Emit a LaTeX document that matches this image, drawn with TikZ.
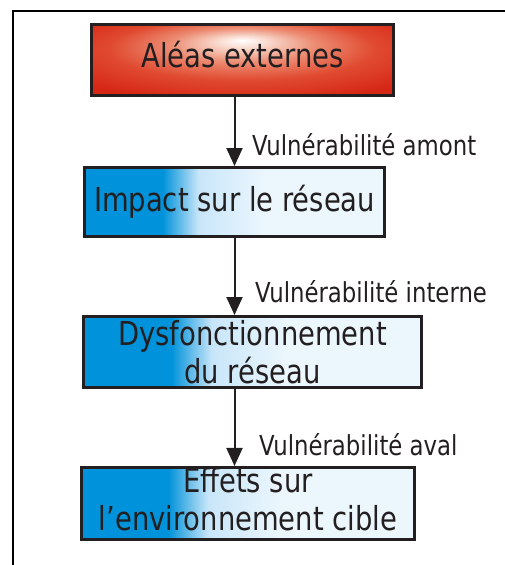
\documentclass[tikz,border=0pt]{standalone}
\usepackage{fontspec}
\setmainfont{DejaVu Sans}[FakeStretch=0.83]
\usetikzlibrary{arrows.meta}
\definecolor{txt}{RGB}{35,31,32}
\definecolor{bord}{RGB}{35,31,32}
\definecolor{redC}{RGB}{214,38,22}
\definecolor{redB}{RGB}{224,74,48}
\definecolor{redM}{RGB}{236,140,115}
\definecolor{redL}{RGB}{249,220,208}
\definecolor{blueC}{RGB}{0,146,218}
\definecolor{blueM}{RGB}{200,230,249}
\definecolor{blueW}{RGB}{236,246,253}
\pgfdeclareradialshading{redglow}{\pgfpoint{0bp}{14bp}}{%
  color(0bp)=(white); color(4bp)=(redL); color(12bp)=(redM);
  color(22bp)=(redB); color(34bp)=(redC); color(50bp)=(redC)}
\pgfdeclarehorizontalshading{bluefade}{100bp}{%
  color(0bp)=(blueC); color(38bp)=(blueC); color(44bp)=(blueM);
  color(55bp)=(blueW); color(100bp)=(blueW)}
\tikzset{
  boxbase/.style={draw=bord, line width=3pt, inner sep=0pt, align=center,
    text=txt, font=\fontsize{33pt}{38pt}\selectfont},
  redbox/.style={boxbase, shading=redglow},
  bluebox/.style={boxbase, shading=bluefade},
  arr/.style={draw=txt, line width=2pt, -{Triangle[width=16pt,length=18pt]}},
  lab/.style={anchor=base west, inner sep=0pt, text=txt,
    font=\fontsize{27.5pt}{33pt}\selectfont},
}
\begin{document}
\begin{tikzpicture}[x=1pt,y=-1pt]
\useasboundingbox (0,0) rectangle (504,565);
\draw[line width=2pt, black] (12.5,566) -- (12.5,11) -- (505,11);
\node[redbox, minimum width=302pt, minimum height=71pt] (r) at (242.5,60)
  {Aléas externes\rule[-11pt]{0pt}{11pt}};
\node[bluebox, minimum width=300pt, minimum height=69pt] (i) at (234.5,202)
  {Impact sur le réseau};
\node[bluebox, minimum width=338pt, minimum height=71pt] (d) at (252.5,352)
  {Dysfonctionnement\\du réseau};
\node[bluebox, minimum width=333pt, minimum height=70pt] (e) at (248,503.5)
  {Effets sur\\l’environnement cible\rule[-9pt]{0pt}{9pt}};
\draw[arr] (r.south -| i.north) -- (i.north);
\draw[arr] (i.south) -- (i.south |- d.north);
\draw[arr] (d.south -| i.south) -- (e.north -| i.south);
\node[lab] (l1) at (252,155) {Vulnérabilité amont};
\node[lab] (l2) at (255,302) {Vulnérabilité interne};
\node[lab] (l3) at (259,455) {Vulnérabilité aval};
\end{tikzpicture}
\end{document}
